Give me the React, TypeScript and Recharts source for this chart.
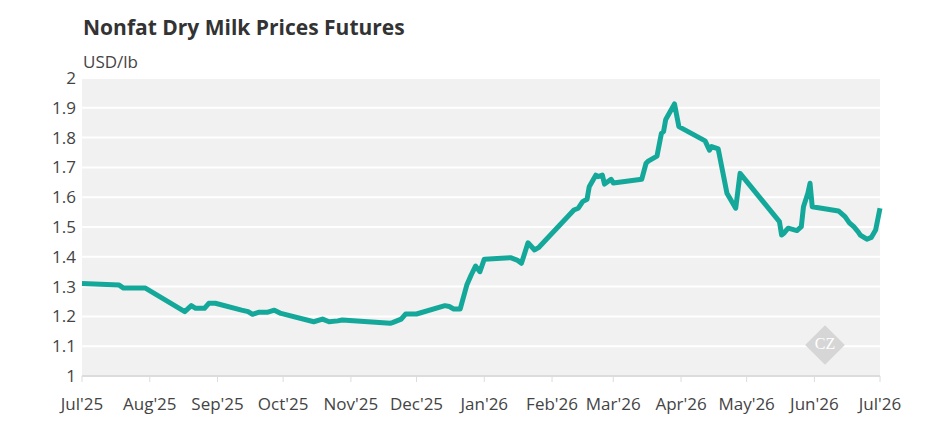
import { LineChart, Line, XAxis, YAxis, CartesianGrid } from 'recharts'

const dates = [
  '2025-07-01', '2025-07-18', '2025-07-20', '2025-07-30', '2025-08-17', '2025-08-20',
  '2025-08-22', '2025-08-26', '2025-08-28', '2025-08-31', '2025-09-12', '2025-09-15',
  '2025-09-17', '2025-09-20', '2025-09-24', '2025-09-27', '2025-09-30', '2025-10-15',
  '2025-10-19', '2025-10-22', '2025-10-26', '2025-10-28', '2025-11-19', '2025-11-20',
  '2025-11-24', '2025-11-26', '2025-12-01', '2025-12-14', '2025-12-16', '2025-12-18',
  '2025-12-21', '2025-12-24', '2025-12-26', '2025-12-28', '2025-12-30', '2026-01-01',
  '2026-01-13', '2026-01-16', '2026-01-18', '2026-01-21', '2026-01-24', '2026-01-26',
  '2026-02-11', '2026-02-13', '2026-02-15', '2026-02-17', '2026-02-18', '2026-02-21',
  '2026-02-22', '2026-02-24', '2026-02-25', '2026-02-28', '2026-03-01', '2026-03-14',
  '2026-03-16', '2026-03-17', '2026-03-21', '2026-03-23', '2026-03-24', '2026-03-25',
  '2026-03-27', '2026-03-29', '2026-03-31', '2026-04-12', '2026-04-14', '2026-04-15',
  '2026-04-18', '2026-04-22', '2026-04-26', '2026-04-28', '2026-05-16', '2026-05-17',
  '2026-05-18', '2026-05-20', '2026-05-24', '2026-05-26', '2026-05-27', '2026-05-29',
  '2026-05-30', '2026-05-31', '2026-06-12', '2026-06-15', '2026-06-17', '2026-06-19',
  '2026-06-21', '2026-06-22', '2026-06-25', '2026-06-27', '2026-06-29', '2026-07-01',
]

const prices = [
  1.31, 1.305, 1.295, 1.295, 1.216, 1.236,
  1.227, 1.227, 1.244, 1.244, 1.221, 1.216,
  1.207, 1.214, 1.214, 1.221, 1.21, 1.182,
  1.191, 1.182, 1.185, 1.188, 1.177, 1.179,
  1.191, 1.208, 1.208, 1.236, 1.233, 1.225,
  1.225, 1.305, 1.339, 1.369, 1.35, 1.392,
  1.397, 1.389, 1.378, 1.447, 1.423, 1.432,
  1.557, 1.563, 1.585, 1.593, 1.635, 1.674,
  1.669, 1.674, 1.644, 1.66, 1.648, 1.66,
  1.714, 1.721, 1.738, 1.814, 1.82, 1.861,
  1.887, 1.913, 1.837, 1.789, 1.758, 1.77,
  1.762, 1.613, 1.563, 1.68, 1.518, 1.473,
  1.479, 1.496, 1.488, 1.501, 1.568, 1.613,
  1.647, 1.568, 1.554, 1.535, 1.514, 1.501,
  1.484, 1.473, 1.459, 1.465, 1.49, 1.563,
]

const monthTicks = [
  '2025-07-01', '2025-08-01', '2025-09-01', '2025-10-01', '2025-11-01', '2025-12-01',
  '2026-01-01', '2026-02-01', '2026-03-01', '2026-04-01', '2026-05-01', '2026-06-01',
  '2026-07-01',
]
const monthLabels = [
  "Jul'25", "Aug'25", "Sep'25", "Oct'25", "Nov'25", "Dec'25",
  "Jan'26", "Feb'26", "Mar'26", "Apr'26", "May'26", "Jun'26", "Jul'26",
]
const yTicks = [1, 1.1, 1.2, 1.3, 1.4, 1.5, 1.6, 1.7, 1.8, 1.9, 2]

const data = dates.map((d, i) => ({ t: Date.parse(d), price: prices[i] }))
const xTicks = monthTicks.map((d) => Date.parse(d))

const font = '"Open Sans", sans-serif'

export default function App() {
  return (
    <div style={{ position: 'relative', width: 945, height: 443, margin: -8, fontFamily: font, background: '#fff' }}>
      <div style={{ position: 'absolute', left: 83, top: 13, fontSize: 21, fontWeight: 700, color: '#333' }}>
        Nonfat Dry Milk Prices Futures
      </div>
      <div style={{ position: 'absolute', left: 83, top: 50, fontSize: 17, color: '#444' }}>USD/lb</div>
      <LineChart width={945} height={443} data={data} margin={{ top: 78, right: 65, bottom: 0, left: 0 }}>
        <CartesianGrid vertical={false} fill="#f1f1f1" stroke="#ffffff" strokeWidth={2} />
        <XAxis
          dataKey="t"
          type="number"
          scale="time"
          domain={[xTicks[0], xTicks[xTicks.length - 1]]}
          ticks={xTicks}
          tickFormatter={(v: number) => monthLabels[xTicks.indexOf(v)] ?? ''}
          height={67}
          tick={{ fontSize: 17, fill: '#444', fontFamily: font }}
          axisLine={{ stroke: '#dcdcdc', strokeWidth: 2 }}
          tickLine={{ stroke: '#dcdcdc' }}
          tickSize={6}
          tickMargin={16}
          interval={0}
        />
        <YAxis
          type="number"
          domain={[1, 2]}
          ticks={yTicks}
          width={82}
          tickFormatter={(v: number) => String(Number(v.toFixed(1)))}
          tick={{ fontSize: 17, fill: '#444', fontFamily: font }}
          axisLine={false}
          tickLine={false}
          tickSize={0}
          tickMargin={6}
        />
        <Line
          type="linear"
          dataKey="price"
          stroke="#14a89a"
          strokeWidth={5}
          strokeLinejoin="round"
          dot={false}
          isAnimationActive={false}
        />
      </LineChart>
      <div
        style={{
          position: 'absolute', left: 811, top: 331, width: 28, height: 28,
          background: '#d6d6d6', transform: 'rotate(45deg)',
        }}
      />
      <div
        style={{
          position: 'absolute', left: 811, top: 335, width: 28, textAlign: 'center',
          fontFamily: 'serif', fontSize: 16, color: '#fff',
        }}
      >
        CZ
      </div>
    </div>
  )
}
